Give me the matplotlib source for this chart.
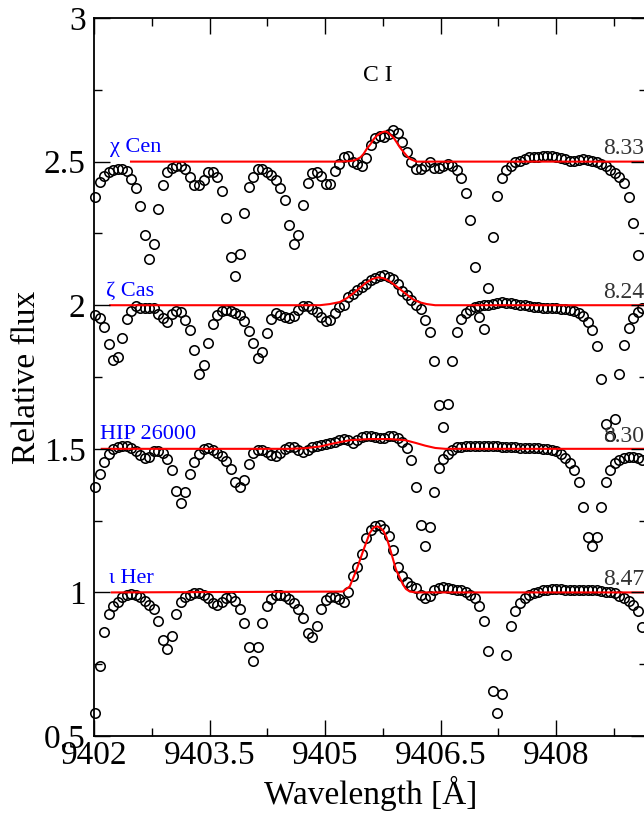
import numpy as np
import matplotlib.pyplot as plt

plt.rcParams['font.family'] = ['Liberation Serif', 'DejaVu Serif']

# Observed spectra, continuum normalised, on a common linear wavelength grid.
wave_start = 9402.013
wave_step = 0.0587

chi_cen_flux = [
    0.876, 0.928, 0.951, 0.963, 0.971, 0.975, 0.975, 0.966, 0.938, 0.909,
    0.844, 0.743, 0.660, 0.714, 0.836, 0.920, 0.963, 0.977, 0.986, 0.986,
    0.975, 0.948, 0.920, 0.917, 0.936, 0.963, 0.963, 0.948, 0.897, 0.805,
    0.668, 0.601, 0.680, 0.820, 0.913, 0.948, 0.975, 0.975, 0.965, 0.955,
    0.936, 0.909, 0.865, 0.781, 0.712, 0.745, 0.850, 0.925, 0.959, 0.963,
    0.951, 0.923, 0.923, 0.969, 0.992, 1.017, 1.021, 1.000, 0.990, 0.986,
    1.014, 1.059, 1.083, 1.090, 1.087, 1.097, 1.111, 1.101, 1.069, 1.035,
    0.997, 0.976, 0.976, 0.986, 1.000, 0.979, 0.979, 0.986, 0.993, 0.986,
    0.972, 0.944, 0.892, 0.795, 0.632, 0.458, 0.417, 0.559, 0.736, 0.882,
    0.944, 0.972, 0.986, 0.997, 1.003, 1.010, 1.016, 1.017, 1.017, 1.019,
    1.021, 1.019, 1.016, 1.014, 1.009, 1.003, 1.003, 1.007, 1.010, 1.007,
    1.002, 0.997, 0.993, 0.983, 0.970, 0.962, 0.948, 0.924, 0.878, 0.788,
    0.674,
]

zeta_cas_flux = [
    0.965, 0.954, 0.925, 0.865, 0.809, 0.819, 0.885, 0.951, 0.980, 0.997,
    0.992, 0.989, 0.992, 0.989, 0.971, 0.955, 0.942, 0.971, 0.980, 0.976,
    0.948, 0.913, 0.844, 0.760, 0.792, 0.868, 0.934, 0.965, 0.981, 0.985,
    0.981, 0.974, 0.965, 0.944, 0.910, 0.868, 0.816, 0.837, 0.903, 0.951,
    0.974, 0.967, 0.958, 0.955, 0.964, 0.983, 0.997, 0.997, 0.988, 0.976,
    0.958, 0.946, 0.948, 0.972, 0.993, 1.002, 1.028, 1.038, 1.052, 1.063,
    1.075, 1.087, 1.095, 1.101, 1.106, 1.097, 1.090, 1.073, 1.049, 1.035,
    1.017, 1.000, 0.986, 0.948, 0.906, 0.806, 0.653, 0.576, 0.656, 0.806,
    0.906, 0.951, 0.974, 0.984, 0.993, 0.998, 1.000, 1.000, 1.005, 1.007,
    1.010, 1.007, 1.007, 1.003, 1.000, 1.000, 0.997, 0.995, 0.993, 0.991,
    0.990, 0.990, 0.990, 0.988, 0.986, 0.983, 0.979, 0.972, 0.962, 0.941,
    0.913, 0.859, 0.743, 0.587, 0.545, 0.604, 0.760, 0.861, 0.920, 0.955,
    0.976, 0.990,
]

hip_26000_flux = [
    0.868, 0.913, 0.955, 0.983, 0.998, 1.007, 1.009, 1.009, 1.002, 0.993,
    0.979, 0.968, 0.972, 0.991, 0.994, 0.986, 0.965, 0.927, 0.854, 0.813,
    0.851, 0.913, 0.955, 0.983, 0.998, 1.002, 0.995, 0.984, 0.974, 0.958,
    0.931, 0.885, 0.868, 0.892, 0.948, 0.986, 0.997, 0.997, 0.988, 0.979,
    0.974, 0.986, 0.998, 1.008, 1.008, 0.997, 0.988, 0.995, 1.007, 1.010,
    1.014, 1.017, 1.021, 1.025, 1.030, 1.033, 1.030, 1.019, 1.031, 1.040,
    1.044, 1.044, 1.040, 1.037, 1.038, 1.043, 1.043, 1.038, 1.024, 1.002,
    0.962, 0.868, 0.736, 0.663, 0.729, 0.851, 0.934, 0.965, 0.983, 0.997,
    1.005, 1.007, 1.009, 1.010, 1.010, 1.010, 1.010, 1.010, 1.009, 1.009,
    1.007, 1.007, 1.007, 1.005, 1.003, 1.003, 1.003, 1.003, 1.002, 1.000,
    0.998, 0.997, 0.993, 0.983, 0.969, 0.951, 0.927, 0.885, 0.799, 0.694,
    0.660, 0.694, 0.799, 0.885, 0.927, 0.951, 0.962, 0.969, 0.972, 0.972,
    0.969, 0.962,
]

iota_her_flux = [
    0.580, 0.743, 0.861, 0.924, 0.951, 0.967, 0.983, 0.990, 0.993, 0.990,
    0.984, 0.970, 0.955, 0.941, 0.899, 0.833, 0.802, 0.847, 0.924, 0.965,
    0.983, 0.991, 0.999, 0.998, 0.991, 0.981, 0.964, 0.957, 0.967, 0.981,
    0.983, 0.969, 0.944, 0.892, 0.809, 0.760, 0.809, 0.892, 0.951, 0.976,
    0.990, 0.991, 0.986, 0.976, 0.964, 0.944, 0.910, 0.858, 0.844, 0.882,
    0.941, 0.972, 0.983, 0.984, 0.976, 0.965, 1.003, 1.056, 1.090, 1.135,
    1.188, 1.219, 1.233, 1.234, 1.222, 1.196, 1.146, 1.090, 1.056, 1.035,
    1.022, 1.014, 0.990, 0.981, 0.988, 1.007, 1.016, 1.020, 1.016, 1.013,
    1.008, 1.010, 1.000, 0.990, 0.979, 0.951, 0.899, 0.795, 0.656, 0.580,
    0.646, 0.781, 0.882, 0.934, 0.964, 0.981, 0.991, 0.998, 1.003, 1.007,
    1.010, 1.012, 1.013, 1.012, 1.010, 1.010, 1.009, 1.007, 1.007, 1.009,
    1.009, 1.007, 1.005, 1.003, 1.000, 0.997, 0.988, 0.979, 0.969, 0.955,
    0.934, 0.878,
]

# Synthetic spectra (best-fit C I profiles).
chi_cen_model_wave = [9402.48, 9405.19, 9405.33, 9405.39, 9405.46, 9405.50,
                      9405.54, 9405.59, 9405.63, 9405.67, 9405.71, 9405.75,
                      9405.78, 9405.81, 9405.84, 9405.89, 9405.93, 9405.97,
                      9406.02, 9406.06, 9406.10, 9406.15, 9406.19, 9406.30,
                      9409.25]
chi_cen_model_flux = [1.000, 1.000, 1.002, 1.005, 1.015, 1.027,
                      1.044, 1.061, 1.078, 1.090, 1.098, 1.103,
                      1.105, 1.102, 1.096, 1.083, 1.067, 1.050,
                      1.033, 1.020, 1.010, 1.004, 1.000, 1.000,
                      1.000]

zeta_cas_model_wave = [9402.21, 9404.93, 9405.06, 9405.19, 9405.28, 9405.36,
                       9405.45, 9405.53, 9405.61, 9405.69, 9405.76, 9405.84,
                       9405.92, 9406.00, 9406.08, 9406.15, 9406.23, 9406.32,
                       9406.43, 9409.25]
zeta_cas_model_flux = [1.000, 1.000, 1.004, 1.011, 1.024, 1.040,
                       1.060, 1.078, 1.091, 1.097, 1.094, 1.083,
                       1.067, 1.050, 1.033, 1.019, 1.010, 1.004,
                       1.000, 1.000]

hip_26000_model_wave = [9402.10, 9404.54, 9404.74, 9404.93, 9405.13, 9405.32,
                        9405.58, 9405.84, 9406.04, 9406.17, 9406.30, 9406.43,
                        9406.56, 9409.25]
hip_26000_model_flux = [1.000, 1.000, 1.002, 1.008, 1.020, 1.030,
                        1.034, 1.034, 1.030, 1.021, 1.011, 1.003,
                        1.000, 1.000]

iota_her_model_wave = [9402.23, 9405.23, 9405.32, 9405.41, 9405.50, 9405.58,
                       9405.63, 9405.68, 9405.72, 9405.76, 9405.80, 9405.84,
                       9405.92, 9406.01, 9406.05, 9406.10, 9406.18, 9409.25]
iota_her_model_flux = [1.000, 1.003, 1.021, 1.080, 1.149, 1.207,
                       1.226, 1.230, 1.224, 1.213, 1.190, 1.155,
                       1.080, 1.028, 1.012, 1.003, 1.000, 1.000]

star_names = ['χ Cen', 'ζ Cas', 'HIP 26000', 'ι Her']
name_x = [9402.21, 9402.16, 9402.08, 9402.20]
abundances = ['8.33', '8.24', '8.30', '8.47']
offsets = [1.5, 1.0, 0.5, 0.0]

observed = [chi_cen_flux, zeta_cas_flux, hip_26000_flux, iota_her_flux]
models = [(chi_cen_model_wave, chi_cen_model_flux),
          (zeta_cas_model_wave, zeta_cas_model_flux),
          (hip_26000_model_wave, hip_26000_model_flux),
          (iota_her_model_wave, iota_her_model_flux)]

fig = plt.figure(figsize=(6.44, 8.15), dpi=100)
ax = fig.add_axes([0.146, 0.0969, 0.8587, 0.881])

for flux, (mw, mf), off, name, nx, ab in zip(observed, models, offsets,
                                              star_names, name_x, abundances):
    flux = np.array(flux)
    wave = wave_start + wave_step * np.arange(len(flux))
    ax.plot(wave, flux + off, 'o', mfc='none', mec='black', ms=6.8,
            mew=1.15, clip_on=False, zorder=2.1)
    ax.plot(mw, np.array(mf) + off, color='red', lw=1.5, zorder=2.2)
    ax.text(nx, 1.0 + off + 0.033, name, color='blue', fontsize=16,
            ha='left', va='baseline')
    ax.text(9408.61, 1.0 + off + 0.025, ab, color='#333333', fontsize=17,
            ha='left', va='baseline')

ax.text(9405.69, 2.80, 'C I', fontsize=17, ha='center', va='center')

ax.set_xlim(9402, 9409.18)
ax.set_ylim(0.5, 3)
ax.set_xticks([9402, 9403.5, 9405, 9406.5, 9408])
ax.set_xticklabels(['9402', '9403.5', '9405', '9406.5', '9408'])
ax.set_xticks(np.arange(9402.75, 9409.2, 1.5), minor=True)
ax.set_yticks([0.5, 1, 1.5, 2, 2.5, 3])
ax.set_yticklabels(['0.5', '1', '1.5', '2', '2.5', '3'])
ax.set_yticks([0.75, 1.25, 1.75, 2.25, 2.75], minor=True)
ax.set_axisbelow(False)

ax.tick_params(which='both', direction='in', top=True, right=True,
               labelsize=24, width=1.0)
ax.tick_params(which='major', length=11.5)
ax.tick_params(which='minor', length=5.5)
ax.tick_params(axis='x', pad=3)
ax.tick_params(axis='y', pad=6)
for s in ax.spines.values():
    s.set_linewidth(1.3)

ax.set_xlabel('Wavelength [Å]', fontsize=24, labelpad=4)
ax.set_ylabel('Relative flux', fontsize=24, labelpad=1)

fig.savefig('out.png', dpi=100)
